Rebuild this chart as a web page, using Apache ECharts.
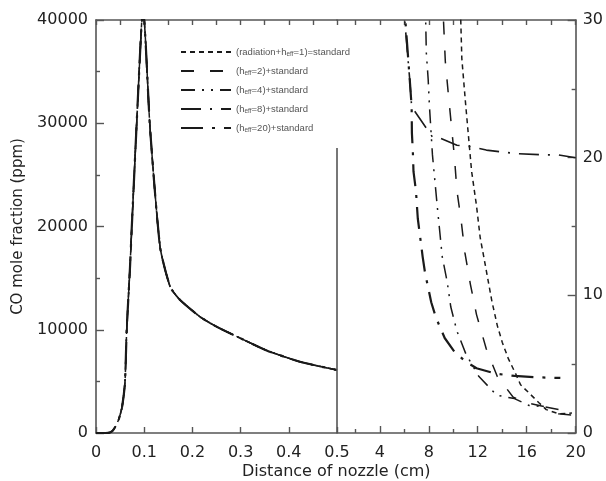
<!DOCTYPE html>
<html>
<head>
<meta charset="utf-8">
<script src="https://cdn.jsdelivr.net/npm/echarts@6.0.0/dist/echarts.min.js"></script>
<style>
html,body{margin:0;padding:0;background:#fff}
#main{width:606px;height:481px}
</style>
</head>
<body>
<div id="main"></div>
<script>
// legend names
const seriesNames = [
  '(radiation+h_eff=1)=standard',
  '(h_eff=2)+standard',
  '(h_eff=4)+standard',
  '(h_eff=8)+standard',
  '(h_eff=20)+standard'
];

// left panel: distance 0..0.5 cm, CO in ppm (all cases collapse on one curve)
const leftX  = [0, 0.02, 0.029, 0.035, 0.04, 0.047, 0.054, 0.06, 0.0637, 0.0705, 0.074, 0.0844, 0.0948, 0.098, 0.112, 0.133, 0.154, 0.174, 0.216, 0.25, 0.285, 0.354, 0.423, 0.5];
const leftCO = [0, 0, 50, 250, 600, 1300, 2500, 4800, 10000, 16000, 19700, 30000, 39800, 40800, 29600, 18000, 14150, 12900, 11250, 10300, 9500, 8000, 6900, 6100];

// right panel: distance 0.5..20 cm, right axis 0..30
const xH1 = [10.55, 10.7, 11.0, 11.2, 11.5, 11.9, 12.2, 12.7, 13.15, 13.6, 14.0, 14.5, 15.1, 15.5, 16.2, 17.0, 17.6, 18.6, 19.7];
const yH1 = [32, 27.2, 24.0, 22.0, 19.0, 16.5, 14.2, 11.8, 9.6, 7.8, 6.6, 5.4, 4.3, 3.5, 2.9, 2.2, 1.7, 1.4, 1.45];

const xH2 = [9.1, 9.35, 9.6, 9.85, 10.1, 10.3, 10.65, 10.95, 11.4, 11.9, 12.7, 13.6, 14.9, 16.0, 17.5, 18.6, 19.8];
const yH2 = [32, 27.0, 24.6, 22.3, 20.0, 17.6, 15.4, 13.1, 10.8, 8.6, 6.1, 4.1, 2.6, 2.2, 1.9, 1.4, 1.3];

const xH4 = [7.7, 7.8, 7.95, 8.05, 8.3, 8.5, 8.7, 8.9, 9.1, 9.5, 9.8, 10.3, 11.05, 12.1, 13.55, 15.0, 16.2, 17.5, 18.6];
const yH4 = [32, 27.6, 25.7, 23.8, 20.2, 18.3, 16.4, 14.6, 12.8, 11.0, 9.15, 7.4, 5.7, 4.1, 2.75, 2.5, 2.0, 1.9, 1.7];

const xH8 = [5.95, 6.05, 6.45, 6.6, 8.3, 9.0, 10.3, 11.5, 12.7, 15.1, 17.4, 18.6, 20];
const yH8 = [32, 29.8, 25.6, 23.7, 21.5, 21.4, 20.9, 20.8, 20.55, 20.3, 20.2, 20.2, 20.0];

const xH20 = [6.0, 6.1, 6.45, 6.6, 6.62, 6.7, 6.75, 6.95, 7.1, 7.3, 7.5, 7.7, 8.2, 8.6, 9.3, 10.1, 11.0, 11.9, 13.5, 15.0, 16.6, 18.75];
const yH20 = [32, 29.8, 25.6, 23.7, 21.8, 20.4, 19.0, 17.6, 15.6, 14.2, 12.8, 11.6, 9.5, 8.35, 6.9, 5.9, 5.2, 4.7, 4.3, 4.15, 4.05, 4.0];

const rightX = [xH1, xH2, xH4, xH8, xH20];
const rightY = [yH1, yH2, yH4, yH8, yH20];

// ticks / labels
const rightTickMajor = [4, 8, 12, 16, 20];
const rightTickMinor = [2, 6, 10, 14, 18];
const rightTickAll = [2, 4, 6, 8, 10, 12, 14, 16, 18, 20];
const dividerTop = 27600; // where the panel divider stops (left scale)

const dashes = [[5, 4], [13, 16], [14, 7, 2, 7, 2, 7], [20, 9, 2, 9], [22, 9, 3, 9]];
const widths = [1.5, 1.5, 1.5, 1.6, 2.2];

const axisCol = '#555';
const txtCol = '#222';
const lineCol = '#1a1a1a';

function zip(a, b) {
  return a.map((v, i) => [v, b[i]]);
}

let chart = echarts.init(document.getElementById('main'));

let series = [];
seriesNames.forEach((name, i) => {
  let ls = { color: lineCol, width: widths[i], type: dashes[i] };
  let left = {
    name: name, type: 'line', xAxisIndex: 0, yAxisIndex: 0,
    data: zip(leftX, leftCO), showSymbol: false, symbol: 'none',
    smooth: 0.2, lineStyle: ls, itemStyle: { color: lineCol }
  };
  if (i === 0) {
    left.markLine = {
      silent: true, symbol: 'none', label: { show: false },
      lineStyle: { color: axisCol, width: 1.6, type: 'solid' },
      data: [[{ coord: [0.5, 0] }, { coord: [0.5, dividerTop] }]]
    };
  }
  series.push(left);
  series.push({
    name: name, type: 'line', xAxisIndex: 2, yAxisIndex: 1,
    data: zip(rightX[i], rightY[i]), showSymbol: false, symbol: 'none',
    smooth: false, lineStyle: ls, itemStyle: { color: lineCol }
  });
});

let option = {
  animation: false,
  textStyle: { fontFamily: 'DejaVu Sans' },
  title: {
    text: 'Distance of nozzle (cm)',
    left: 237, top: 459,
    textStyle: { fontSize: 16, fontWeight: 'normal', color: txtCol, fontFamily: 'DejaVu Sans' }
  },
  legend: {
    data: seriesNames,
    orient: 'vertical',
    left: 175, top: 41,
    itemWidth: 50, itemHeight: 12, itemGap: 7,
    itemStyle: { opacity: 0 },
    formatter: function (name) {
      let parts = name.split('h_eff');
      if (parts.length === 1) return '{t|' + name + '}';
      return '{t|' + parts[0] + 'h}{s|eff}{t|' + parts[1] + '}';
    },
    textStyle: {
      rich: {
        t: { fontSize: 9.5, color: '#555', fontFamily: 'Liberation Sans', lineHeight: 12 },
        s: { fontSize: 6.5, color: '#555', fontFamily: 'Liberation Sans', lineHeight: 12, padding: [5, 0, 0, 0] }
      }
    }
  },
  grid: [
    { left: 96, right: 269, top: 20, bottom: 48 },
    { left: 337, right: 28, top: 20, bottom: 48 }
  ],
  xAxis: [
    {
      gridIndex: 0, type: 'value', position: 'bottom', min: 0, max: 0.5, interval: 0.1,
      axisLine: { onZero: false, lineStyle: { color: axisCol, width: 1.6 } },
      axisTick: { inside: true, length: 6, lineStyle: { color: axisCol, width: 1.4 } },
      axisLabel: { fontSize: 16, color: txtCol, margin: 12 },
      splitLine: { show: false }
    },
    {
      gridIndex: 0, type: 'value', position: 'top', min: 0, max: 0.5, interval: 0.05,
      axisLine: { onZero: false, lineStyle: { color: axisCol, width: 1.6 } },
      axisTick: { inside: true, length: 5, lineStyle: { color: axisCol, width: 1.4 } },
      axisLabel: { show: false },
      splitLine: { show: false }
    },
    {
      gridIndex: 1, type: 'value', position: 'bottom', min: 0.5, max: 20,
      axisLine: { onZero: false, lineStyle: { color: axisCol, width: 1.6 } },
      axisTick: { inside: true, length: 7, customValues: rightTickMajor, lineStyle: { color: axisCol, width: 1.4 } },
      axisLabel: { fontSize: 16, color: txtCol, margin: 12, customValues: rightTickMajor },
      splitLine: { show: false }
    },
    {
      gridIndex: 1, type: 'value', position: 'bottom', min: 0.5, max: 20,
      axisLine: { show: false, onZero: false },
      axisTick: { inside: true, length: 4, customValues: rightTickMinor, lineStyle: { color: axisCol, width: 1.4 } },
      axisLabel: { show: false },
      splitLine: { show: false }
    },
    {
      gridIndex: 1, type: 'value', position: 'top', min: 0.5, max: 20,
      axisLine: { onZero: false, lineStyle: { color: axisCol, width: 1.6 } },
      axisTick: { inside: true, length: 5, customValues: rightTickAll, lineStyle: { color: axisCol, width: 1.4 } },
      axisLabel: { show: false },
      splitLine: { show: false }
    }
  ],
  yAxis: [
    {
      gridIndex: 0, type: 'value', position: 'left', min: 0, max: 40000, interval: 10000,
      name: 'CO mole fraction (ppm)', nameLocation: 'middle', nameGap: 70,
      nameTextStyle: { fontSize: 15, color: txtCol },
      axisLine: { show: true, onZero: false, lineStyle: { color: axisCol, width: 1.6 } },
      axisTick: { show: true, inside: true, length: 8, lineStyle: { color: axisCol, width: 1.4 } },
      minorTick: { show: true, splitNumber: 2, length: 4, lineStyle: { color: axisCol, width: 1.4 } },
      axisLabel: { fontSize: 16, color: txtCol, margin: 8, formatter: v => String(v) },
      splitLine: { show: false }
    },
    {
      gridIndex: 1, type: 'value', position: 'right', min: 0, max: 30, interval: 10,
      axisLine: { show: true, onZero: false, lineStyle: { color: axisCol, width: 1.6 } },
      axisTick: { show: true, inside: true, length: 8, lineStyle: { color: axisCol, width: 1.4 } },
      minorTick: { show: true, splitNumber: 2, length: 4, lineStyle: { color: axisCol, width: 1.4 } },
      axisLabel: { fontSize: 16, color: txtCol, margin: 7 },
      splitLine: { show: false }
    }
  ],
  series: series
};

chart.setOption(option);
</script>
</body>
</html>
